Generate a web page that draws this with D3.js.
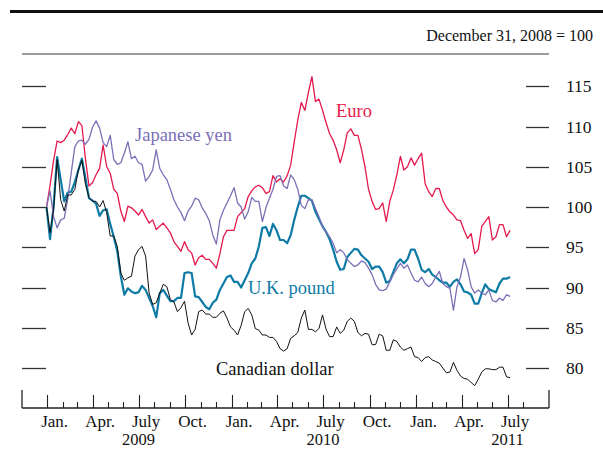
<!DOCTYPE html>
<html>
<head>
<meta charset="utf-8">
<script src="https://cdn.jsdelivr.net/npm/d3@7"></script>
<style>
  html, body { margin: 0; padding: 0; background: #fff; }
  svg { display: block; }
  text { font-family: "Liberation Serif", "Times New Roman", serif; }
</style>
</head>
<body>
<svg id="chart" width="603" height="449"></svg>
<script>
// ---- DATA (weekly readings, index = 100 on Dec 31, 2008) ----
const startDate = new Date(2008, 11, 31);
const euro = [100,102.7,105.8,108.2,108.0,108.3,109.0,109.8,109.1,110.6,110.1,106.0,102.6,103.0,104.0,104.8,107.7,105.0,104.2,102.2,101.7,99.5,98.2,100.1,99.9,99.5,99.0,99.7,98.8,98.0,98.4,97.2,97.6,98.0,97.4,96.8,95.7,95.1,94.5,95.7,94.7,94.3,92.8,93.7,94.0,93.5,93.5,93.0,92.4,94.2,96.3,97.1,97.1,97.1,98.8,99.3,99.8,101.3,102.0,102.5,102.7,102.4,101.7,101.9,103.9,103.1,103.5,103.1,103.9,105.2,108.1,110.8,113.0,112.0,114.2,116.2,113.1,113.4,112.0,110.5,109.1,108.3,107.1,105.5,107.1,109.2,109.7,108.9,108.9,107.2,105.0,102.2,100.7,99.7,99.8,100.5,98.2,100.7,102.1,104.0,106.3,104.6,105.0,106.1,105.2,106.0,106.7,102.9,101.9,101.3,102.3,102.3,100.8,100.0,99.4,99.0,98.4,98.3,97.1,96.1,96.7,94.2,94.7,97.6,98.2,98.8,95.9,96.3,97.8,97.8,96.3,97.1];
const yen = [100,102.0,98.8,97.4,98.4,98.6,101.0,104.3,107.5,108.2,108.3,107.8,108.4,109.9,110.7,109.8,108.0,107.5,108.9,105.9,105.3,105.5,106.7,108.1,106.0,106.3,105.5,105.3,103.2,103.8,104.6,107.1,104.8,104.0,103.4,102.2,100.9,100.0,99.3,98.3,99.5,100.1,101.1,100.9,99.9,99.2,98.3,96.5,95.4,98.4,99.6,100.5,101.4,102.4,100.5,100.0,98.5,99.4,101.2,100.7,100.7,98.2,99.9,101.1,102.2,103.8,103.9,102.6,102.3,104.0,103.4,102.2,100.2,99.8,100.9,100.9,99.8,98.8,97.5,96.9,96.3,95.5,94.3,94.7,94.3,93.5,93.0,92.6,92.8,93.3,93.1,92.4,91.6,90.4,89.7,89.6,89.8,90.7,91.6,92.3,93.0,92.4,92.8,91.8,90.9,90.7,91.3,90.5,90.1,90.5,91.3,92.0,90.5,90.1,89.9,87.2,90.1,91.3,93.6,92.2,90.1,89.3,89.7,89.3,89.1,89.7,88.4,88.2,88.7,88.4,89.1,88.9];
const pound = [100,96.0,100.1,106.2,103.4,100.7,101.8,101.9,103.1,104.6,106.0,103.6,101.1,100.8,100.4,98.9,99.6,99.7,97.9,96.3,94.5,91.4,89.1,89.9,89.5,89.3,89.4,90.2,89.7,88.7,87.7,86.3,89.3,89.7,89.0,88.3,88.3,88.7,88.7,91.8,91.9,91.8,88.9,88.8,88.2,87.6,87.3,88.1,88.5,89.7,90.5,91.3,91.5,90.7,90.7,90.0,90.9,91.8,93.0,93.6,95.1,97.4,97.5,96.4,97.9,97.1,95.9,95.9,95.5,96.5,98.4,100.0,101.4,101.4,101.1,100.8,99.4,98.5,97.6,96.9,96.0,94.7,93.2,92.2,92.3,93.8,94.3,94.8,94.7,94.0,93.6,93.2,92.3,92.6,92.6,91.9,90.6,90.8,91.9,93.0,93.5,93.0,93.5,94.7,94.7,93.6,92.2,91.9,92.3,91.6,91.3,90.9,90.6,90.6,90.1,90.7,91.0,90.4,89.5,89.4,89.1,88.0,88.0,89.3,90.4,89.8,89.6,89.4,90.5,91.1,91.1,91.3];
const cad = [100,96.8,99.7,105.9,100.9,99.5,101.5,101.5,102.2,104.6,105.8,102.8,101.2,100.7,100.7,100.0,100.8,99.3,96.4,96.4,95.1,91.8,90.9,91.2,91.4,93.9,94.7,95.1,93.9,89.3,87.9,88.1,89.3,90.4,90.1,88.5,88.2,87.0,87.5,88.3,85.6,84.1,84.8,87.0,87.2,86.7,86.7,86.3,86.3,86.8,87.1,86.2,85.1,84.7,84.1,85.3,87.0,87.4,86.6,84.9,84.7,84.1,84.1,83.8,83.8,83.3,82.4,82.1,82.4,83.7,84.0,84.4,86.2,87.2,84.8,84.8,84.5,84.9,86.6,84.8,83.9,83.9,85.1,84.3,84.7,85.8,86.2,85.8,84.4,84.0,84.3,84.2,82.9,82.9,84.2,84.0,82.2,82.2,83.5,83.3,82.6,82.2,82.4,82.6,81.4,81.3,80.8,81.3,81.4,81.0,80.8,80.6,80.0,79.4,79.5,80.7,79.7,79.0,78.7,78.6,78.2,77.8,78.6,79.5,79.9,79.9,79.8,79.8,80.1,80.1,78.9,78.8];
const dates = euro.map((_, i) => d3.timeDay.offset(startDate, 7 * i));

const yTicks = [80, 85, 90, 95, 100, 105, 110, 115];
const quarterNames = ["Jan.", "Apr.", "July", "Oct."];
const years = [2009, 2010, 2011];
const noteText = "December 31, 2008 = 100";

const series = [
  { name: "U.K. pound", values: pound, color: "#0E7BA6", width: 2.2, lx: 248, ly: 294 },
  { name: "Euro", values: euro, color: "#E5194D", width: 1.3, lx: 336, ly: 117 },
  { name: "Japanese yen", values: yen, color: "#7B6FB6", width: 1.3, lx: 135, ly: 141 },
  { name: "Canadian dollar", values: cad, color: "#111111", width: 1.0, lx: 216, ly: 375 }
];

// ---- LAYOUT ----
const svg = d3.select("#chart");
const x = d3.scaleTime()
  .domain([new Date(2008, 10, 12, 12), new Date(2011, 8, 21)])
  .range([22, 549]);
const y = d3.scaleLinear().domain([80, 115]).range([368, 86.25]);

// top rules and note
svg.append("line").attr("x1", 10).attr("x2", 603).attr("y1", 11.5).attr("y2", 11.5)
  .attr("stroke", "#111").attr("stroke-width", 3);
svg.append("text").attr("x", 593).attr("y", 41).attr("text-anchor", "end")
  .attr("font-size", 16).attr("fill", "#111").text(noteText);
svg.append("line").attr("x1", 22).attr("x2", 549).attr("y1", 54).attr("y2", 54)
  .attr("stroke", "#7a7a7a").attr("stroke-width", 1.5);

// y ticks (left and right) with right labels
const yt = svg.append("g");
yTicks.forEach(v => {
  const yy = Math.round(y(v)) + 0.5;
  yt.append("line").attr("x1", 22).attr("x2", 46).attr("y1", yy).attr("y2", yy)
    .attr("stroke", "#333").attr("stroke-width", 1.3);
  yt.append("line").attr("x1", 526).attr("x2", 549).attr("y1", yy).attr("y2", yy)
    .attr("stroke", "#333").attr("stroke-width", 1.3);
  yt.append("text").attr("x", 566).attr("y", y(v) + 6).attr("font-size", 17.5)
    .attr("fill", "#111").text(v);
});

// x axis
const xa = svg.append("g");
const axisY = 408;
xa.append("line").attr("x1", 22).attr("x2", 549).attr("y1", axisY).attr("y2", axisY)
  .attr("stroke", "#222").attr("stroke-width", 1.3);
[22, 549].forEach(xx => {
  xa.append("line").attr("x1", xx).attr("x2", xx).attr("y1", 390).attr("y2", axisY)
    .attr("stroke", "#222").attr("stroke-width", 1.3);
});
const months = d3.timeMonth.range(new Date(2009, 0, 1), new Date(2011, 7, 2));
months.forEach(m => {
  const xx = Math.round(x(m)) + 0.5;
  const q = m.getMonth() % 3 === 0;
  xa.append("line").attr("x1", xx).attr("x2", xx).attr("y1", q ? 395 : 402).attr("y2", axisY)
    .attr("stroke", "#222").attr("stroke-width", 1.1);
});
months.filter(m => m.getMonth() % 3 === 0 && m < new Date(2011, 7, 1)).forEach(m => {
  const mid = new Date(m.getFullYear(), m.getMonth(), 16);
  xa.append("text").attr("x", x(mid)).attr("y", 426.5).attr("text-anchor", "middle")
    .attr("font-size", 17).attr("fill", "#111").text(quarterNames[m.getMonth() / 3]);
});
years.forEach(yr => {
  xa.append("text").attr("x", x(new Date(yr, 6, 1))).attr("y", 445.3).attr("text-anchor", "middle")
    .attr("font-size", 16.5).attr("fill", "#111").text(yr);
});

// lines
const line = d3.line().x((d, i) => x(dates[i])).y(d => y(d));
series.forEach(s => {
  svg.append("path").datum(s.values).attr("d", line)
    .attr("fill", "none").attr("stroke", s.color).attr("stroke-width", s.width)
    .attr("stroke-linejoin", "round");
});
series.forEach(s => {
  svg.append("text").attr("x", s.lx).attr("y", s.ly).attr("font-size", 18.5)
    .attr("fill", s.color).text(s.name);
});
</script>
</body>
</html>
